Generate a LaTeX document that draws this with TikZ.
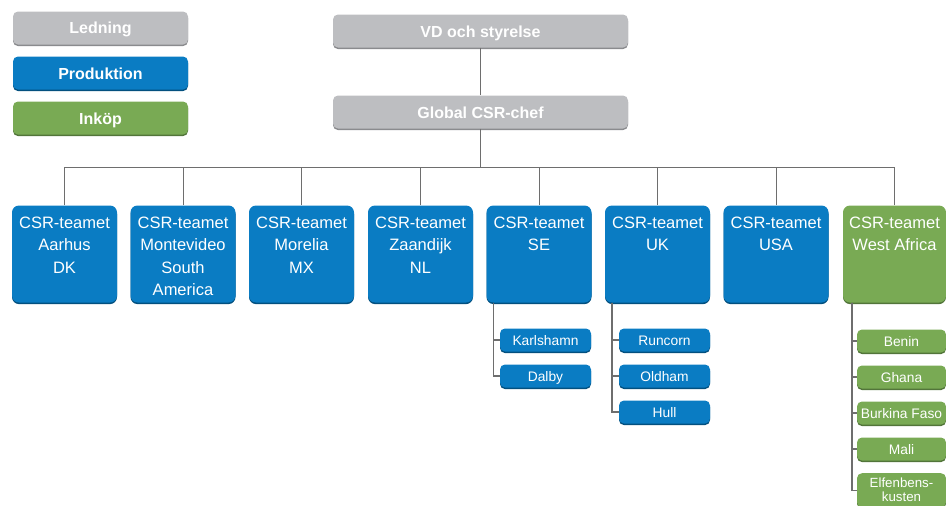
\documentclass[tikz,border=0pt]{standalone}
\usepackage{fontspec}
\setmainfont{Liberation Sans}
\definecolor{grayF}{HTML}{BDBEC1}
\definecolor{grayD}{HTML}{8A8B8E}
\definecolor{blueF}{HTML}{0A7CC3}
\definecolor{blueD}{HTML}{03507F}
\definecolor{greenF}{HTML}{79AA54}
\definecolor{greenD}{HTML}{52753A}
\definecolor{lineC}{HTML}{6E6E6E}
\tikzset{
  basebox/.style={rounded corners=5pt, inner sep=0pt, text=white, align=center},
  graybox/.style={basebox, fill=grayF, preaction={fill=grayD, transform canvas={yshift=-1.6pt}}},
  bluebox/.style={basebox, fill=blueF, preaction={fill=blueD, transform canvas={yshift=-1.6pt}}},
  greenbox/.style={basebox, fill=greenF, preaction={fill=greenD, transform canvas={yshift=-1.6pt}}},
  legendbox/.style={minimum width=175pt, minimum height=33pt, text height=15pt, text depth=3pt,
                    font=\fontsize{16}{19}\selectfont\bfseries},
  headbox/.style={minimum width=295pt, minimum height=33pt, text height=15pt, text depth=3pt,
                  font=\fontsize{16}{19}\selectfont\bfseries},
  team/.style={minimum width=105pt, minimum height=97pt, rounded corners=7pt},
  teamlbl/.style={anchor=north, align=center, text=white, inner sep=0pt, yshift=-11.5pt,
                  font=\fontsize{16.5}{22.3}\selectfont},
  sub/.style={minimum width=91pt, minimum height=23pt, text height=13pt, text depth=2.5pt,
              font=\fontsize{13.8}{16}\selectfont},
  wsub/.style={minimum width=89pt, minimum height=23pt, text height=13pt, text depth=2.5pt,
               font=\fontsize{13.8}{16}\selectfont},
  conn/.style={draw=lineC, line width=1pt},
  subconn/.style={draw=lineC, line width=1.4pt},
}
\begin{document}
\begin{tikzpicture}[x=1pt, y=-1pt]
\useasboundingbox (0,0) rectangle (946,506);
% legend
\node[graybox, legendbox] (leg1) at (100.5,28) {Ledning};
\node[bluebox, legendbox] (leg2) at (100.5,73) {Produktion};
\node[greenbox, legendbox] (leg3) at (100.5,118) {Inköp};
% heads
\node[graybox, headbox] (vd) at (480.5,31) {VD och styrelse};
\node[graybox, headbox] (gc) at (480.5,112) {Global CSR-chef};
\coordinate (bar) at (480.5,167);
\draw[conn] (vd.south) -- (gc.north);
\draw[conn] (gc.south) -- (bar);
% teams
\node[bluebox, team, label={[teamlbl]north:{CSR-teamet\\Aarhus\\DK}}] (t1) at (64.5,254) {};
\node[bluebox, team, label={[teamlbl]north:{CSR-teamet\\Montevideo\\South\\America}}] (t2) at (183,254) {};
\node[bluebox, team, label={[teamlbl]north:{CSR-teamet\\Morelia\\MX}}] (t3) at (301.5,254) {};
\node[bluebox, team, label={[teamlbl]north:{CSR-teamet\\Zaandijk\\NL}}] (t4) at (420.5,254) {};
\node[bluebox, team, label={[teamlbl]north:{CSR-teamet\\SE}}] (t5) at (539,254) {};
\node[bluebox, team, label={[teamlbl]north:{CSR-teamet\\UK}}] (t6) at (657.5,254) {};
\node[bluebox, team, label={[teamlbl]north:{CSR-teamet\\USA}}] (t7) at (776,254) {};
\node[greenbox, team, minimum width=103pt, label={[teamlbl]north:{CSR-teamet\\West Africa}}] (t8) at (894.5,254) {};
\draw[conn] (t1.north |- bar) -- (t8.north |- bar);
\foreach \t in {t1,t2,t3,t4,t5,t6,t7,t8} {
  \draw[conn] (\t.north) -- (\t.north |- bar);
}
% SE subs
\node[bluebox, sub] (karl) at (545.5,340) {Karlshamn};
\node[bluebox, sub] (dalby) at (545.5,376) {Dalby};
\coordinate (seL) at ([xshift=7pt]t5.south west);
\draw[subconn] (seL) |- (karl.west);
\draw[subconn] (seL) |- (dalby.west);
% UK subs
\node[bluebox, sub] (run) at (664.5,340) {Runcorn};
\node[bluebox, sub] (old) at (664.5,376) {Oldham};
\node[bluebox, sub] (hull) at (664.5,412) {Hull};
\coordinate (ukL) at ([xshift=7pt]t6.south west);
\draw[subconn] (ukL) |- (run.west);
\draw[subconn] (ukL) |- (old.west);
\draw[subconn] (ukL) |- (hull.west);
% West Africa subs
\node[greenbox, wsub] (benin) at (901.5,341) {Benin};
\node[greenbox, wsub] (ghana) at (901.5,377) {Ghana};
\node[greenbox, wsub] (burk) at (901.5,413) {Burkina Faso};
\node[greenbox, wsub] (mali) at (901.5,449) {Mali};
\node[greenbox, minimum width=89pt, minimum height=34pt, anchor=north,
      font=\fontsize{13.3}{14}\selectfont] (elf) at (901.5,473) {Elfenbens-\\kusten};
\coordinate (waL) at ([xshift=9pt]t8.south west);
\draw[subconn] (waL) |- (benin.west);
\draw[subconn] (waL) |- (ghana.west);
\draw[subconn] (waL) |- (burk.west);
\draw[subconn] (waL) |- (mali.west);
\draw[subconn] (waL) |- (elf.west);
\end{tikzpicture}
\end{document}
